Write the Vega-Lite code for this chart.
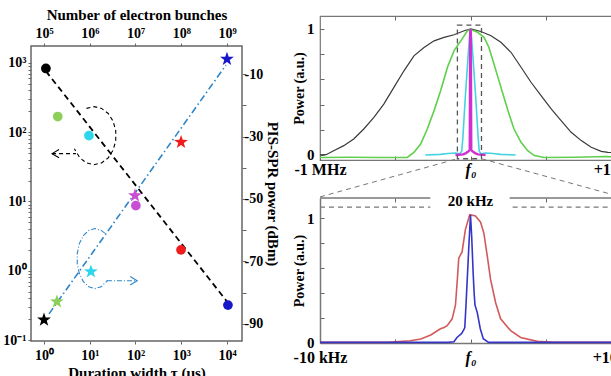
{
"$schema":"https://vega.github.io/schema/vega-lite/v6.json",
"padding":{"left":2,"top":6,"right":0,"bottom":0},
"config":{
  "font":"Liberation Serif",
  "view":{"stroke":null},
  "axis":{"grid":false,"labelFont":"Liberation Serif","labelFontWeight":"bold","labelColor":"#000","titleFont":"Liberation Serif","titleFontWeight":"bold","titleColor":"#000","domainColor":"#666","tickColor":"#666","domainWidth":1.5,"tickWidth":1,"labelFlush":false,"labelOverlap":false}
},
"datasets":{
  "circ":[{"tau":1.1,"val":830,"k":"a"},{"tau":2.0,"val":168,"k":"b"},{"tau":9.6,"val":89,"k":"c"},{"tau":102,"val":8.7,"k":"d"},{"tau":990,"val":2.0,"k":"e"},{"tau":10500,"val":0.32,"k":"f"}],
  "star":[{"tau":1.0,"dbm":-88.7,"k":"a"},{"tau":1.92,"dbm":-82.9,"k":"b"},{"tau":10.6,"dbm":-73.3,"k":"c"},{"tau":97.5,"dbm":-48.9,"k":"d"},{"tau":990,"dbm":-31.8,"k":"e"},{"tau":10000,"dbm":-5.2,"k":"f"}],
  "fitL":[{"tau":1.1,"val":760},{"tau":10000,"val":0.36}],
  "fitR":[{"tau":1.29,"dbm":-86.8},{"tau":9510,"dbm":-7.1}],
  "ann1":[{"tau":12.4,"val":89}],
  "arr1":[{"tau":5.0,"val":49},{"tau":1.5,"val":49}],
  "arr1h":[{"tau":1.5,"val":49}],
  "ann2":[{"tau":13.0,"dbm":-69.1}],
  "arr2":[{"tau":23.8,"dbm":-76.2},{"tau":109,"dbm":-76.2}],
  "arr2h":[{"tau":109,"dbm":-76.2}],
  "blk":[{"f":-1,"p":0},{"f":-0.96,"p":0.002},{"f":-0.909,"p":0.034},{"f":-0.842,"p":0.074},{"f":-0.776,"p":0.127},{"f":-0.709,"p":0.206},{"f":-0.642,"p":0.298},{"f":-0.576,"p":0.404},{"f":-0.509,"p":0.536},{"f":-0.442,"p":0.668},{"f":-0.376,"p":0.787},{"f":-0.309,"p":0.853},{"f":-0.242,"p":0.906},{"f":-0.176,"p":0.933},{"f":-0.109,"p":0.954},{"f":-0.042,"p":0.986},{"f":0.002,"p":1.0},{"f":0.069,"p":0.98},{"f":0.136,"p":0.946},{"f":0.202,"p":0.894},{"f":0.269,"p":0.815},{"f":0.336,"p":0.696},{"f":0.402,"p":0.577},{"f":0.469,"p":0.471},{"f":0.536,"p":0.365},{"f":0.602,"p":0.272},{"f":0.669,"p":0.18},{"f":0.736,"p":0.114},{"f":0.802,"p":0.061},{"f":0.869,"p":0.029},{"f":0.913,"p":0.021},{"f":1,"p":0.015}],
  "grn":[{"f":-1,"p":-0.02},{"f":-0.8,"p":-0.018},{"f":-0.6,"p":-0.02},{"f":-0.45,"p":-0.02},{"f":-0.42,"p":-0.02},{"f":-0.376,"p":0.02},{"f":-0.331,"p":0.087},{"f":-0.287,"p":0.206},{"f":-0.242,"p":0.352},{"f":-0.198,"p":0.511},{"f":-0.153,"p":0.696},{"f":-0.109,"p":0.828},{"f":-0.064,"p":0.906},{"f":-0.02,"p":0.986},{"f":0,"p":0.995},{"f":0.047,"p":0.974},{"f":0.09,"p":0.934},{"f":0.122,"p":0.855},{"f":0.156,"p":0.722},{"f":0.189,"p":0.59},{"f":0.222,"p":0.458},{"f":0.256,"p":0.325},{"f":0.289,"p":0.206},{"f":0.336,"p":0.1},{"f":0.38,"p":0.034},{"f":0.424,"p":-0.005},{"f":0.49,"p":-0.02},{"f":0.7,"p":-0.018},{"f":0.9,"p":-0.012},{"f":1,"p":-0.018}],
  "cyn":[{"f":-0.3,"p":0},{"f":-0.2,"p":0.005},{"f":-0.15,"p":0.012},{"f":-0.1,"p":0.015},{"f":-0.07,"p":0.01},{"f":-0.058,"p":0.03},{"f":-0.05,"p":0.15},{"f":-0.035,"p":0.45},{"f":-0.018,"p":0.75},{"f":-0.006,"p":0.95},{"f":0,"p":0.99},{"f":0.006,"p":0.95},{"f":0.018,"p":0.75},{"f":0.035,"p":0.45},{"f":0.05,"p":0.15},{"f":0.058,"p":0.03},{"f":0.07,"p":0.01},{"f":0.1,"p":0.015},{"f":0.15,"p":0.012},{"f":0.2,"p":0.005},{"f":0.3,"p":0}],
  "mag":[{"f":-0.1,"p":0},{"f":-0.05,"p":0.005},{"f":-0.03,"p":0.015},{"f":-0.012,"p":0.03},{"f":-0.005,"p":0.04},{"f":-0.002,"p":0.97},{"f":0,"p":1.0},{"f":0.002,"p":0.97},{"f":0.005,"p":0.04},{"f":0.012,"p":0.03},{"f":0.03,"p":0.015},{"f":0.05,"p":0.005},{"f":0.1,"p":0}],
  "zbox":[{"f":-0.087,"f2":0.073,"p":-0.03,"p2":1.03}],
  "conn":[{"f":-0.087,"p":-0.03,"g":"L"},{"f":-1,"p":-0.333,"g":"L"},{"f":0.073,"p":-0.03,"g":"R"},{"f":1,"p":-0.333,"g":"R"}],
  "red":[{"f":-10,"p":0},{"f":-5.5,"p":0},{"f":-4,"p":0.013},{"f":-3.3,"p":0.027},{"f":-2.64,"p":0.06},{"f":-2.0,"p":0.11},{"f":-1.76,"p":0.12},{"f":-1.55,"p":0.135},{"f":-1.22,"p":0.19},{"f":-1.0,"p":0.3},{"f":-0.89,"p":0.48},{"f":-0.78,"p":0.68},{"f":-0.56,"p":0.73},{"f":-0.34,"p":0.91},{"f":-0.05,"p":1.03},{"f":0.33,"p":1.02},{"f":0.67,"p":0.97},{"f":0.89,"p":0.88},{"f":1.11,"p":0.7},{"f":1.33,"p":0.51},{"f":1.67,"p":0.32},{"f":2.0,"p":0.19},{"f":2.67,"p":0.094},{"f":3.33,"p":0.04},{"f":4.44,"p":0.008},{"f":5.56,"p":0},{"f":10,"p":0}],
  "blu":[{"f":-10,"p":0},{"f":-1.5,"p":0},{"f":-1.1,"p":0.005},{"f":-0.9,"p":0.04},{"f":-0.6,"p":0.07},{"f":-0.45,"p":0.1},{"f":-0.38,"p":0.12},{"f":-0.3,"p":0.3},{"f":-0.2,"p":0.55},{"f":-0.1,"p":0.8},{"f":0,"p":1.03},{"f":0.08,"p":0.85},{"f":0.18,"p":0.55},{"f":0.25,"p":0.38},{"f":0.3,"p":0.3},{"f":0.45,"p":0.24},{"f":0.65,"p":0.11},{"f":0.85,"p":0.03},{"f":1.2,"p":0},{"f":10,"p":0}],
  "topS":[{"f":-10,"f2":-2.67,"p":1.165},{"f":2.6,"f2":10,"p":1.165}],
  "topD":[{"f":-10,"f2":-2.67,"p":1.091},{"f":2.8,"f2":10,"p":1.091}],
  "lab":[{"f":0,"p":1.14,"t":"20 kHz"}]
},
"spacing":10,
"hconcat":[
 {
  "spacing":-11,
  "vconcat":[
   {"width":211,"height":1,"data":{"values":[]},"mark":{"type":"point"}},
   {
    "width":211,"height":295,
    "view":{"stroke":"#666","strokeWidth":1.5},
    "layer":[
     {
      "encoding":{
       "x":{"field":"tau","type":"quantitative","scale":{"type":"log","domain":[0.52,21300]},
            "axis":{"orient":"bottom","domain":false,"values":[1,10,100,1000,10000],"labelExpr":"datum.value==1?'10⁰':datum.value==10?'10¹':datum.value==100?'10²':datum.value==1000?'10³':'10⁴'","labelFontSize":14,"tickSize":3,"labelPadding":4,"title":"Duration width τ (μs)","titleFontSize":15,"titlePadding":3}},
       "y":{"field":"val","type":"quantitative","scale":{"type":"log","domain":[0.097,1750]},
            "axis":{"orient":"left","domain":false,"values":[0.1,0.2,0.3,0.4,0.5,0.6,0.7,0.8,0.9,1,2,3,4,5,6,7,8,9,10,20,30,40,50,60,70,80,90,100,200,300,400,500,600,700,800,900,1000],"labelExpr":"datum.value==0.1?'10⁻¹':datum.value==1?'10⁰':datum.value==10?'10¹':datum.value==100?'10²':datum.value==1000?'10³':''","labelFontSize":14,"tickSize":3,"labelPadding":2,"title":null}},
       "color":{"field":"k","type":"nominal","scale":{"domain":["a","b","c","d","e","f"],"range":["#000000","#8ccf5a","#2ed5ec","#c84fd2","#ee1c1c","#1717c9"]},"legend":null}
      },
      "layer":[
       {"data":{"name":"fitL"},"mark":{"type":"line","strokeDash":[6,4],"strokeWidth":1.8},"encoding":{"color":{"value":"#000"}}},
       {"data":{"name":"ann1"},"mark":{"type":"point","shape":"M -0.26 -0.94 L 0 -1 L 0.26 -0.94 L 0.489 -0.766 L 0.658 -0.5 L 0.749 -0.174 L 0.749 0.174 L 0.658 0.5 L 0.489 0.766 L 0.26 0.94 L 0 1 L -0.26 0.94 L -0.489 0.766 L -0.677 0.454","size":3364,"filled":false,"strokeWidth":1.1,"strokeDash":[4,3],"opacity":1},"encoding":{"color":{"value":"#000"}}},
       {"data":{"name":"arr1"},"mark":{"type":"line","strokeDash":[4,3],"strokeWidth":1.1},"encoding":{"color":{"value":"#000"}}},
       {"data":{"name":"arr1h"},"mark":{"type":"point","shape":"M 2 -1.2 L 0 0 L 2 1.2","size":49,"filled":false,"strokeWidth":1.1,"opacity":1},"encoding":{"color":{"value":"#000"}}},
       {"data":{"name":"circ"},"mark":{"type":"circle","size":95,"opacity":1}}
      ]
     },
     {
      "encoding":{
       "x":{"field":"tau","type":"quantitative","scale":{"type":"log","domain":[0.52,21300]},
            "axis":{"orient":"top","domain":false,"values":[1,10,100,1000,10000],"labelExpr":"datum.value==1?'10⁵':datum.value==10?'10⁶':datum.value==100?'10⁷':datum.value==1000?'10⁸':'10⁹'","labelFontSize":14,"tickSize":3,"labelPadding":3,"title":"Number of electron bunches","titleFontSize":15,"titlePadding":4}},
       "y":{"field":"dbm","type":"quantitative","scale":{"domain":[-95.5,-1]},
            "axis":{"orient":"right","domain":false,"values":[-10,-20,-30,-40,-50,-60,-70,-80,-90],"labelExpr":"indexof([-10,-30,-50,-70,-90],datum.value)>=0?'-'+(-datum.value):''","labelFontSize":14,"tickSize":4,"labelPadding":-2,"title":"PIS-SPR power (dBm)","titleAngle":90,"titleFontSize":15,"titlePadding":2}},
       "color":{"field":"k","type":"nominal","scale":{"domain":["a","b","c","d","e","f"],"range":["#000000","#8ccf5a","#2ed5ec","#c84fd2","#ee1c1c","#1717c9"]},"legend":null}
      },
      "layer":[
       {"data":{"name":"fitR"},"mark":{"type":"line","strokeDash":[7,3,1.5,3],"strokeWidth":1.6},"encoding":{"color":{"value":"#2f86c6"}}},
       {"data":{"name":"ann2"},"mark":{"type":"point","shape":"M 0.33 -0.85 L 0.205 -0.94 L 0 -1 L -0.205 -0.94 L -0.386 -0.766 L -0.52 -0.5 L -0.59 -0.174 L -0.59 0.174 L -0.52 0.5 L -0.386 0.766 L -0.205 0.94 L 0 1 L 0.205 0.94 L 0.386 0.766 L 0.42 0.72","size":3600,"filled":false,"strokeWidth":1.1,"strokeDash":[5,2,1,2],"opacity":1},"encoding":{"color":{"value":"#2f86c6"}}},
       {"data":{"name":"arr2"},"mark":{"type":"line","strokeDash":[5,2,1,2],"strokeWidth":1.1},"encoding":{"color":{"value":"#2f86c6"}}},
       {"data":{"name":"arr2h"},"mark":{"type":"point","shape":"M -2 -1.2 L 0 0 L -2 1.2","size":49,"filled":false,"strokeWidth":1.1,"opacity":1},"encoding":{"color":{"value":"#2f86c6"}}},
       {"data":{"name":"star"},"mark":{"type":"point","shape":"M 0 -1 L 0.235 -0.324 L 0.951 -0.309 L 0.38 0.124 L 0.588 0.809 L 0 0.4 L -0.588 0.809 L -0.38 0.124 L -0.951 -0.309 L -0.235 -0.324 Z","size":210,"filled":true,"opacity":1}}
      ]
     }
    ],
    "resolve":{"scale":{"y":"independent"},"axis":{"x":"independent"}}
   }
  ]
 },
 {
  "bounds":"flush",
  "spacing":38,
  "vconcat":[
   {
    "width":301,"height":144,
    "view":{"stroke":"#777","strokeWidth":1.2},
    "encoding":{
     "y":{"field":"p","type":"quantitative","scale":{"domain":[-0.04,1.103]},
          "axis":{"domain":false,"values":[0,0.2,0.4,0.6,0.8,1],"labelExpr":"datum.value==0?'0':datum.value==1?'1':''","labelFontSize":15,"tickSize":-4,"labelPadding":10,"title":"Power (a.u.)","titleFontSize":14,"titlePadding":0}}
    },
    "layer":[
     {
      "encoding":{"x":{"field":"f","type":"quantitative","scale":{"domain":[-1,1]},
        "axis":{"orient":"bottom","domain":false,"values":[-1,-0.5,0,0.5,1],"labelExpr":"datum.value==-1?'-1 MHz':datum.value==0?'f₀':datum.value==1?'+1 MHz':''","labelFontSize":16,"labelFontStyle":{"condition":{"test":"datum.value==0","value":"italic"},"value":"normal"},"tickSize":-4,"labelPadding":5,"title":null}}},
      "layer":[
       {"data":{"name":"blk"},"mark":{"type":"line","color":"#3a3a3a","strokeWidth":1.2}},
       {"data":{"name":"grn"},"mark":{"type":"line","color":"#5fd04c","strokeWidth":1.6}},
       {"data":{"name":"cyn"},"mark":{"type":"line","color":"#45d3e3","strokeWidth":1.6}},
       {"data":{"name":"mag"},"mark":{"type":"line","color":"#d22ed2","strokeWidth":2.4}}
      ]
     },
     {
      "encoding":{"x":{"field":"f","type":"quantitative","scale":{"domain":[-1,1]},
        "axis":{"orient":"top","domain":false,"values":[-0.5,0,0.5],"labels":false,"tickSize":-4,"title":null}}},
      "layer":[
       {"data":{"name":"zbox"},"mark":{"type":"rect","filled":false,"color":"#555","strokeDash":[5,4],"strokeWidth":1.3},
        "encoding":{"x2":{"field":"f2"},"y2":{"field":"p2"}}},
       {"data":{"name":"conn"},"mark":{"type":"line","color":"#777","strokeDash":[5,4],"strokeWidth":1,"clip":false},
        "encoding":{"detail":{"field":"g"}}}
      ]
     }
    ],
    "resolve":{"axis":{"x":"independent"}}
   },
   {
    "width":301,"height":145,
    "encoding":{
     "y":{"field":"p","type":"quantitative","scale":{"domain":[-0.005,1.165]},
          "axis":{"domain":true,"domainColor":"#777","values":[0,0.2,0.4,0.6,0.8,1],"labelExpr":"datum.value==0?'0':datum.value==1?'1':''","labelFontSize":15,"tickSize":-4,"labelPadding":10,"title":"Power (a.u.)","titleFontSize":14,"titlePadding":0}}
    },
    "layer":[
     {
      "encoding":{"x":{"field":"f","type":"quantitative","scale":{"domain":[-10,10]},
        "axis":{"orient":"bottom","domain":true,"domainColor":"#777","values":[-10,-5,0,5,10],"labelExpr":"datum.value==-10?'-10 kHz':datum.value==0?'f₀':datum.value==10?'+10 kHz':''","labelFontSize":16,"labelFontStyle":{"condition":{"test":"datum.value==0","value":"italic"},"value":"normal"},"tickSize":-4,"labelPadding":10,"title":null}}},
      "layer":[
       {"data":{"name":"red"},"mark":{"type":"line","color":"#d25a5a","strokeWidth":1.6}},
       {"data":{"name":"blu"},"mark":{"type":"line","color":"#3535c8","strokeWidth":1.6}}
      ]
     },
     {
      "encoding":{"x":{"field":"f","type":"quantitative","scale":{"domain":[-10,10]},
        "axis":{"orient":"top","domain":false,"values":[-5,5],"labels":false,"tickSize":-4,"title":null}}},
      "layer":[
       {"data":{"name":"topS"},"mark":{"type":"rule","color":"#777","strokeWidth":1.5},"encoding":{"x2":{"field":"f2"}}},
       {"data":{"name":"topD"},"mark":{"type":"rule","color":"#777","strokeWidth":1.2,"strokeDash":[5,4]},"encoding":{"x2":{"field":"f2"}}},
       {"data":{"name":"lab"},"mark":{"type":"text","font":"Liberation Serif","fontWeight":"bold","fontSize":15,"color":"#000","baseline":"middle"},"encoding":{"text":{"field":"t"}}}
      ]
     }
    ],
    "resolve":{"axis":{"x":"independent"}}
   }
  ]
 }
]
}
